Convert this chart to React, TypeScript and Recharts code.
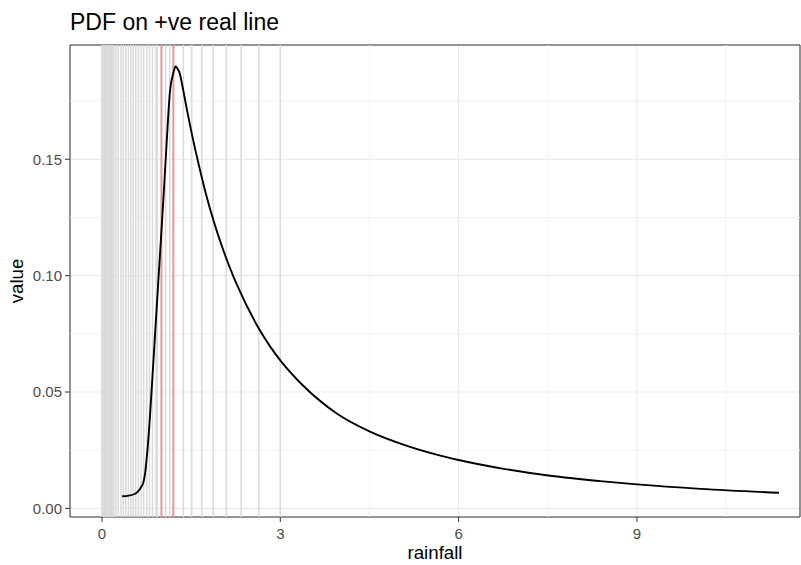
import React from 'react';
import { LineChart, Line, XAxis, YAxis, CartesianGrid, ReferenceLine, ReferenceArea, Label } from 'recharts';

// density curve
const rainfall = [
  0.34, 0.45, 0.55, 0.61, 0.66, 0.7, 0.73, 0.75, 0.78, 0.825, 0.894, 0.963, 1.032, 1.09, 1.145,
  1.2, 1.24, 1.26, 1.31, 1.34, 1.43, 1.54, 1.65, 1.75, 2.04, 2.21, 2.27, 2.6, 2.83, 3.01, 3.39, 3.95,
  4.5, 5.07, 5.63, 6.0, 6.76, 7.54, 8.38, 9.0, 10.07, 11.39,
];
const density = [
  0.0052, 0.0055, 0.0062, 0.0074, 0.0092, 0.0115, 0.016, 0.021, 0.0296, 0.0467, 0.0753, 0.1039, 0.1324, 0.158, 0.1796,
  0.187, 0.19, 0.1893, 0.1867, 0.1832, 0.1712, 0.1575, 0.1453, 0.135, 0.111, 0.0997, 0.0961, 0.079, 0.0695, 0.0633, 0.0526, 0.0408,
  0.0331, 0.0274, 0.0231, 0.0208, 0.017, 0.0140, 0.0117, 0.0103, 0.0084, 0.0067,
];

// grey vertical markers (dense near zero) and the two red bounds
const markerLines = [
  0, 0.02, 0.04, 0.06, 0.08, 0.1, 0.12, 0.14, 0.16, 0.18, 0.2,
  0.236, 0.274, 0.32, 0.359, 0.4, 0.443, 0.488, 0.527, 0.567, 0.611, 0.657, 0.702, 0.753, 0.8, 0.85, 0.91,
  0.93, 1.07, 1.14, 1.37, 1.51, 1.68, 1.87, 2.09, 2.34, 2.64, 3.0,
];
const boundLines = [1.0, 1.2];

const xTicks = [0, 3, 6, 9];
const xMinor = [1.5, 4.5, 7.5, 10.5];
const yTicks = [0, 0.05, 0.1, 0.15];
const yMinor = [0.025, 0.075, 0.125, 0.175];

const X_MIN = -0.538;
const X_MAX = 11.743;
const Y_MIN = -0.0037;
const Y_MAX = 0.1991;

const FONT = '"Liberation Sans", Arial, sans-serif';

export default function App() {
  const data = rainfall.map((x, i) => ({ rainfall: x, value: density[i] }));

  return (
    <div style={{ position: 'absolute', left: 0, top: 0, width: 801, height: 565, background: '#fff', fontFamily: FONT }}>
      <div style={{ position: 'absolute', left: 70, top: 10.5, fontSize: 23, lineHeight: 1, color: '#000' }}>
        PDF on +ve real line
      </div>
      <LineChart width={801} height={565} data={data} margin={{ top: 45, right: 1, bottom: 0, left: 0 }}>
        <CartesianGrid stroke="#ebebeb" strokeWidth={1.2} />
        {xMinor.map((x) => (
          <ReferenceLine key={'xm' + x} x={x} stroke="#f0f0f0" strokeWidth={0.9} />
        ))}
        {yMinor.map((y) => (
          <ReferenceLine key={'ym' + y} y={y} stroke="#f0f0f0" strokeWidth={0.9} />
        ))}
        {markerLines.map((x) => (
          <ReferenceLine key={'g' + x} x={x} stroke="#dadada" strokeWidth={1.5} />
        ))}
        {boundLines.map((x) => (
          <ReferenceLine key={'r' + x} x={x} stroke="#e89696" strokeWidth={2} />
        ))}
        <XAxis
          type="number"
          dataKey="rainfall"
          domain={[X_MIN, X_MAX]}
          ticks={xTicks}
          allowDataOverflow
          height={48}
          axisLine={false}
          tickSize={5}
          tickMargin={6}
          tickLine={{ stroke: '#333' }}
          tick={{ fill: '#4d4d4d', fontSize: 15, fontFamily: FONT }}
        >
          <Label value="rainfall" position="insideBottom" offset={6} fill="#000" fontSize={18.7} fontFamily={FONT} />
        </XAxis>
        <YAxis
          type="number"
          domain={[Y_MIN, Y_MAX]}
          ticks={yTicks}
          allowDataOverflow
          width={70}
          axisLine={false}
          tickSize={5}
          tickMargin={3}
          tickLine={{ stroke: '#333' }}
          tickFormatter={(v: number) => v.toFixed(2)}
          tick={{ fill: '#4d4d4d', fontSize: 15, fontFamily: FONT }}
        >
          <Label
            value="value"
            angle={-90}
            position="insideLeft"
            offset={16}
            fill="#000"
            fontSize={18.7}
            fontFamily={FONT}
            style={{ textAnchor: 'middle' }}
          />
        </YAxis>
        <Line
          type="monotone"
          dataKey="value"
          stroke="#000"
          strokeWidth={1.9}
          dot={false}
          isAnimationActive={false}
        />
        <ReferenceArea x1={X_MIN} x2={X_MAX} y1={Y_MIN} y2={Y_MAX} fill="none" stroke="#333" strokeWidth={1} />
      </LineChart>
    </div>
  );
}
